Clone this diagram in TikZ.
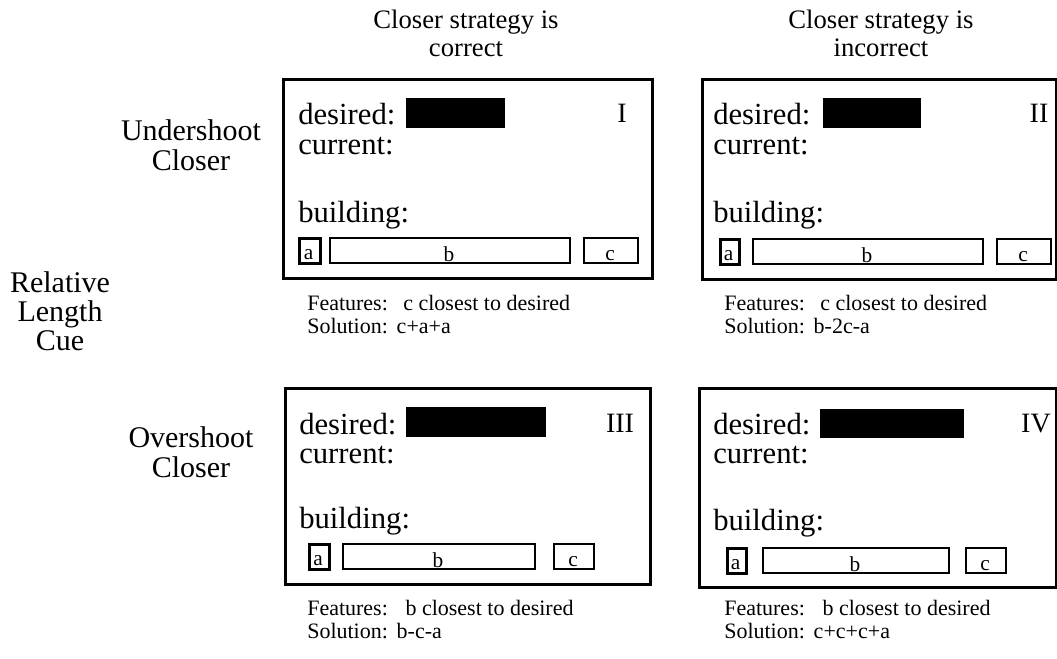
\documentclass[tikz,border=0pt]{standalone}
\usepackage{fontspec}
\setmainfont{Liberation Serif}
\begin{document}
\begin{tikzpicture}[x=0.75pt,y=-0.75pt,
  panel/.style={draw, line width=2pt, inner sep=0pt, anchor=north west},
  bar/.style={fill=black, draw=none, inner sep=0pt, anchor=north west},
  piece/.style={draw, line width=1.6pt, inner sep=0pt, anchor=north west, minimum height=18.75pt},
  apiece/.style={piece, line width=2.2pt},
  plabel/.style={font=\fontsize{16}{18}\selectfont, inner sep=0pt, anchor=base},
  boxtext/.style={font=\fontsize{23}{27}\selectfont, inner sep=0pt, anchor=base west},
  numeral/.style={font=\fontsize{21}{24}\selectfont, inner sep=0pt, anchor=base},
  heading/.style={font=\fontsize{20}{24}\selectfont, align=center, inner sep=0pt, anchor=base},
  rowlab/.style={font=\fontsize{22.5}{26}\selectfont, align=center, inner sep=0pt, anchor=base},
  note/.style={font=\fontsize{16.5}{20}\selectfont, inner sep=0pt, anchor=base west}]
\useasboundingbox (0,0) rectangle (1057,658);

% column headings
\node[heading] (h1a) at (466,28) {Closer strategy is};
\node[heading] (h1b) at (466,56) {correct};
\node[heading] (h2a) at (881,28) {Closer strategy is};
\node[heading] (h2b) at (881,56) {incorrect};

% row headings
\node[rowlab] (u1) at (191,140) {Undershoot};
\node[rowlab] (u2) at (191,170) {Closer};
\node[rowlab] (r1) at (60,292) {Relative};
\node[rowlab] (r2) at (60,321) {Length};
\node[rowlab] (r3) at (60,350) {Cue};
\node[rowlab] (o1) at (191,447) {Overshoot};
\node[rowlab] (o2) at (191,477) {Closer};

% panel I
\node[panel, minimum width=276.75pt, minimum height=149.25pt] (p1) at (282,78) {};
\node[boxtext] (p1d) at (298,124) {desired:};
\node[bar, minimum width=74.25pt, minimum height=22.5pt] (p1bar) at (406,98) {};
\node[numeral] (p1n) at (622,122) {I};
\node[boxtext] (p1c) at (298,154) {current:};
\node[boxtext] (p1b) at (298,222) {building:};
\node[apiece, minimum width=15.75pt] (p1pa) at (298,237) {};
\node[piece, minimum width=180pt] (p1pb) at (329,237) {};
\node[piece, minimum width=40.5pt] (p1pc) at (583,237) {};
\node[plabel] at (308.5,259) {a};
\node[plabel] at (449,261) {b};
\node[plabel] at (610,260) {c};

% panel II
\node[panel, minimum width=265.5pt, minimum height=150pt] (p2) at (701,78) {};
\node[boxtext] (p2d) at (713,124) {desired:};
\node[bar, minimum width=73.5pt, minimum height=22.5pt] (p2bar) at (823,98) {};
\node[numeral] (p2n) at (1039,122) {II};
\node[boxtext] (p2c) at (713,154) {current:};
\node[boxtext] (p2b) at (713,222) {building:};
\node[apiece, minimum width=14.25pt] (p2pa) at (719,238) {};
\node[piece, minimum width=172.5pt] (p2pb) at (752,238) {};
\node[piece, minimum width=40.5pt] (p2pc) at (996,238) {};
\node[plabel] at (728.5,260) {a};
\node[plabel] at (867,262) {b};
\node[plabel] at (1023,261) {c};

% panel III
\node[panel, minimum width=273.75pt, minimum height=147pt] (p3) at (284,387) {};
\node[boxtext] (p3d) at (299,434) {desired:};
\node[bar, minimum width=105pt, minimum height=22pt] (p3bar) at (406,407) {};
\node[numeral] (p3n) at (620,432) {III};
\node[boxtext] (p3c) at (299,463) {current:};
\node[boxtext] (p3b) at (299,528) {building:};
\node[apiece, minimum width=15pt] (p3pa) at (308,543) {};
\node[piece, minimum width=144pt] (p3pb) at (342,543) {};
\node[piece, minimum width=30pt] (p3pc) at (553,543) {};
\node[plabel] at (318,565) {a};
\node[plabel] at (438,567) {b};
\node[plabel] at (573,566) {c};

% panel IV
\node[panel, minimum width=267.75pt, minimum height=149.25pt] (p4) at (698,387) {};
\node[boxtext] (p4d) at (713,434) {desired:};
\node[bar, minimum width=108pt, minimum height=21.75pt] (p4bar) at (820,409) {};
\node[numeral] (p4n) at (1036,432) {IV};
\node[boxtext] (p4c) at (713,463) {current:};
\node[boxtext] (p4b) at (713,530) {building:};
\node[apiece, minimum width=14.25pt] (p4pa) at (726,547) {};
\node[piece, minimum width=139.5pt] (p4pb) at (762,547) {};
\node[piece, minimum width=30pt] (p4pc) at (965,547) {};
\node[plabel] at (735.5,569) {a};
\node[plabel] at (855,571) {b};
\node[plabel] at (985,570) {c};

% features and solutions
\node[note] (f1) at (307,310) {Features:\hspace{0.7em}c closest to desired};
\node[note] (s1) at (307,333) {Solution:\hspace{0.4em}c+a+a};
\node[note] (f2) at (724,310) {Features:\hspace{0.7em}c closest to desired};
\node[note] (s2) at (724,333) {Solution:\hspace{0.4em}b-2c-a};
\node[note] (f3) at (307,615) {Features:\hspace{0.8em}b closest to desired};
\node[note] (s3) at (307,638) {Solution:\hspace{0.4em}b-c-a};
\node[note] (f4) at (724,615) {Features:\hspace{0.8em}b closest to desired};
\node[note] (s4) at (724,638) {Solution:\hspace{0.4em}c+c+c+a};
\end{tikzpicture}
\end{document}
